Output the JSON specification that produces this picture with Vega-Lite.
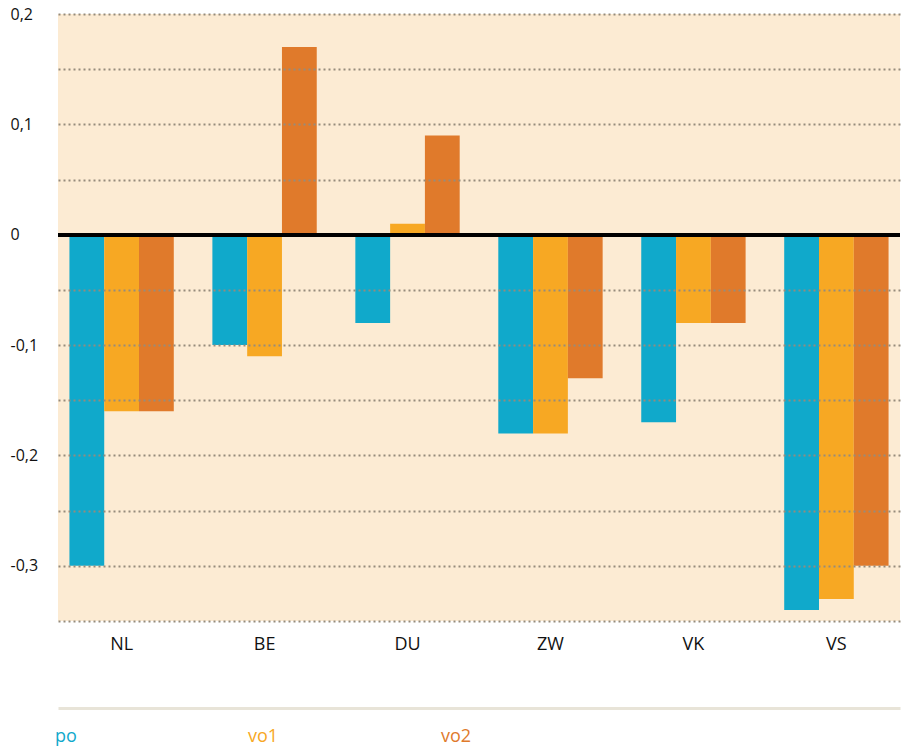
{
  "$schema": "https://vega.github.io/schema/vega-lite/v6.json",
  "autosize": {"type": "none"},
  "padding": {"left": 58, "top": 14, "right": 1, "bottom": 129},
  "width": 842,
  "height": 607,
  "background": "white",
  "config": {
    "view": {"fill": "#fcebd3", "stroke": null},
    "font": "Open Sans",
    "locale": {"number": {"decimal": ",", "thousands": ".", "grouping": [3], "currency": ["€", ""], "minus": "-"}}
  },
  "data": {
    "values": [
      {"land": "NL", "reeks": "po", "waarde": -0.30},
      {"land": "NL", "reeks": "vo1", "waarde": -0.16},
      {"land": "NL", "reeks": "vo2", "waarde": -0.16},
      {"land": "BE", "reeks": "po", "waarde": -0.10},
      {"land": "BE", "reeks": "vo1", "waarde": -0.11},
      {"land": "BE", "reeks": "vo2", "waarde": 0.17},
      {"land": "DU", "reeks": "po", "waarde": -0.08},
      {"land": "DU", "reeks": "vo1", "waarde": 0.01},
      {"land": "DU", "reeks": "vo2", "waarde": 0.09},
      {"land": "ZW", "reeks": "po", "waarde": -0.18},
      {"land": "ZW", "reeks": "vo1", "waarde": -0.18},
      {"land": "ZW", "reeks": "vo2", "waarde": -0.13},
      {"land": "VK", "reeks": "po", "waarde": -0.17},
      {"land": "VK", "reeks": "vo1", "waarde": -0.08},
      {"land": "VK", "reeks": "vo2", "waarde": -0.08},
      {"land": "VS", "reeks": "po", "waarde": -0.34},
      {"land": "VS", "reeks": "vo1", "waarde": -0.33},
      {"land": "VS", "reeks": "vo2", "waarde": -0.30}
    ]
  },
  "layer": [
    {
      "mark": {"type": "bar"},
      "encoding": {
        "x": {
          "field": "land", "type": "nominal", "sort": null,
          "scale": {"paddingInner": 0.27, "paddingOuter": 0.08},
          "axis": {
            "title": null, "ticks": false, "tickSize": 0,
            "offset": 87, "domainColor": "#e8e4d8", "domainWidth": 3,
            "labelPadding": -73, "labelBaseline": "top",
            "labelFontSize": 18, "labelColor": "#111", "labelAngle": 0
          }
        },
        "xOffset": {"field": "reeks", "type": "nominal", "sort": null},
        "y": {
          "field": "waarde", "type": "quantitative",
          "scale": {"domain": [-0.35, 0.2], "nice": false, "zero": false},
          "axis": {
            "title": null,
            "values": [-0.35, -0.3, -0.25, -0.2, -0.15, -0.1, -0.05, 0, 0.05, 0.1, 0.15, 0.2],
            "format": "~g",
            "labelExpr": "round(datum.value*100) % 10 == 0 ? datum.label : ''",
            "labelAlign": "left", "labelPadding": 48, "ticks": false, "tickSize": 0,
            "labelFontSize": 16, "labelColor": "#111",
            "domain": false,
            "grid": true, "gridDash": [2, 3], "gridWidth": 2,
            "gridColor": {"condition": {"test": "datum.value === 0", "value": "transparent"}, "value": "#958b7c"},
            "zindex": 1
          }
        },
        "color": {
          "field": "reeks", "type": "nominal", "sort": null,
          "scale": {"domain": ["po", "vo1", "vo2"], "range": ["#10a9cb", "#f7a823", "#e07a2b"]},
          "legend": {
            "title": null, "orient": "none", "direction": "horizontal",
            "legendX": -21, "legendY": 714,
            "symbolSize": 0, "symbolStrokeWidth": 0, "symbolOpacity": 0,
            "labelOffset": 0, "labelFontSize": 18, "padding": 0,
            "columnPadding": 144, "gridAlign": "all",
            "encode": {"labels": {"update": {"fill": {"scale": "color", "field": "value"}}}}
          }
        }
      }
    },
    {
      "mark": {"type": "rule", "color": "#000", "strokeWidth": 3},
      "encoding": {"y": {"datum": 0}}
    }
  ]
}
